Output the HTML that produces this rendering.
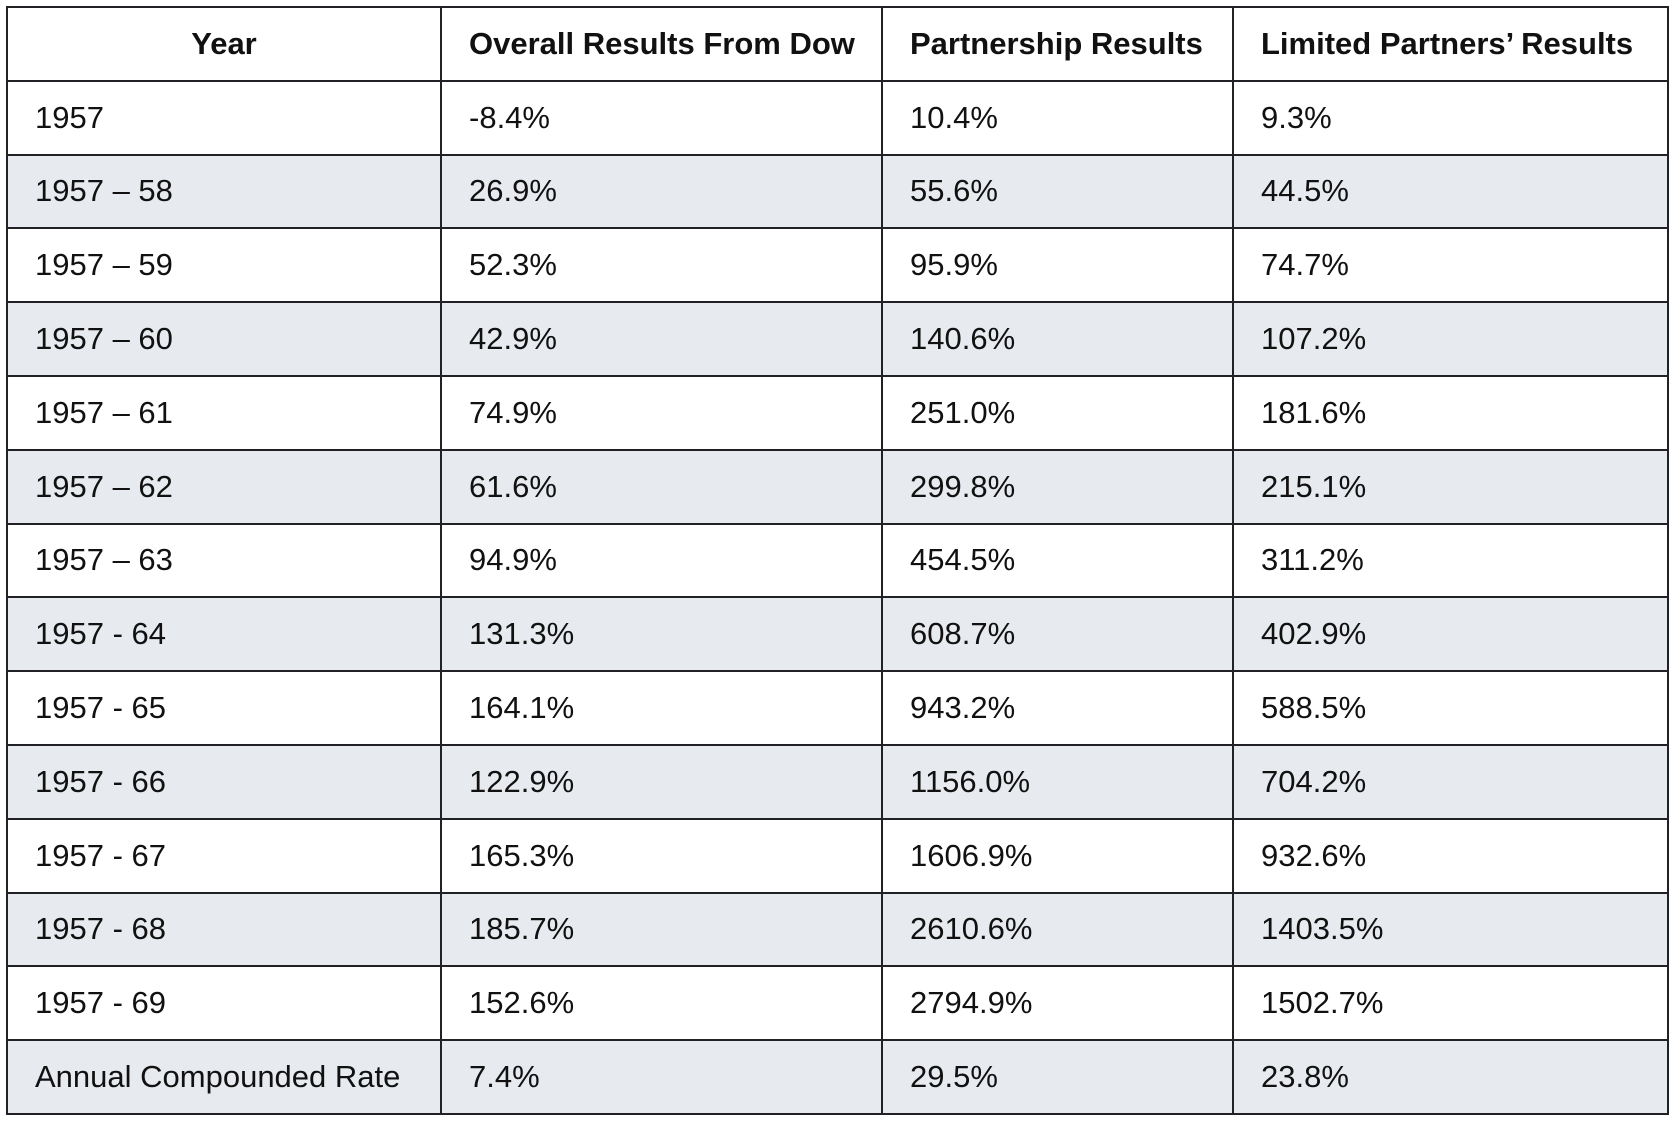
<!DOCTYPE html>
<html><head><meta charset="utf-8"><style>
body{margin:0;background:#fff;width:1678px;height:1126px;overflow:hidden;font-family:"Liberation Sans",sans-serif;}
table{position:absolute;left:6px;top:6px;border-collapse:collapse;width:1661px;table-layout:fixed;}
td,th{border:2.5px solid #222226;height:71.8px;padding:0 0 0 27px;font-size:31px;color:#111;text-align:left;white-space:nowrap;}
th{font-weight:bold;}
th.c{text-align:center;padding:0;}
tr:nth-child(even) td{background:#e7eaef;}
</style></head><body>
<table>
<colgroup><col style="width:434px"><col style="width:441px"><col style="width:351px"><col style="width:435px"></colgroup>
<thead><tr>
<th class="c">Year</th>
<th>Overall Results From Dow</th>
<th>Partnership Results</th>
<th>Limited Partners’ Results</th>
</tr></thead>
<tbody id="tb"></tbody>
</table>
<script>
const years=["1957","1957 – 58","1957 – 59","1957 – 60","1957 – 61","1957 – 62","1957 – 63","1957 - 64","1957 - 65","1957 - 66","1957 - 67","1957 - 68","1957 - 69","Annual Compounded Rate"];
const dow=["-8.4%","26.9%","52.3%","42.9%","74.9%","61.6%","94.9%","131.3%","164.1%","122.9%","165.3%","185.7%","152.6%","7.4%"];
const partnership=["10.4%","55.6%","95.9%","140.6%","251.0%","299.8%","454.5%","608.7%","943.2%","1156.0%","1606.9%","2610.6%","2794.9%","29.5%"];
const limited=["9.3%","44.5%","74.7%","107.2%","181.6%","215.1%","311.2%","402.9%","588.5%","704.2%","932.6%","1403.5%","1502.7%","23.8%"];
const tb=document.getElementById('tb');
const names=['year-cell','dow-cell','partnership-cell','limited-cell'];
years.forEach((y,i)=>{
  const tr=document.createElement('tr');
  
  
  [y,dow[i],partnership[i],limited[i]].forEach((v,j)=>{
    const td=document.createElement('td');
    
    
    td.textContent=v;
    tr.appendChild(td);
  });
  tb.appendChild(tr);
});
</script>
</body></html>
